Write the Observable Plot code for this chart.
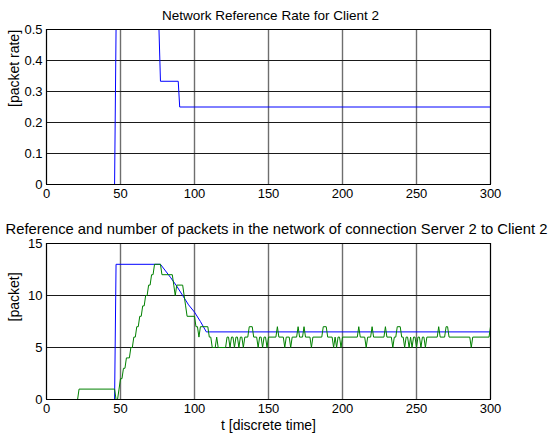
<!DOCTYPE html>
<html>
<head>
<meta charset="utf-8">
<script src="https://cdn.jsdelivr.net/npm/d3@7"></script>
<script src="https://cdn.jsdelivr.net/npm/@observablehq/plot@0.6"></script>
<style>
  html, body { margin: 0; padding: 0; background: #fff; }
  #chart { width: 552px; height: 443px; position: relative; }
  #chart svg { display: block; }
</style>
</head>
<body>
<div id="chart"></div>
<script>
// Network reference rate for client 2 (break points of the step signal)
const rateTime = [0, 46, 47, 76, 77, 89, 90, 300];
const rateValue = [0, 0, 0.5, 0.5, 0.333, 0.333, 0.25, 0.25];

// Reference number of packets, connection Server 2 -> Client 2
const refTime = [0, 46, 47, 77, 84, 88, 92, 96, 100, 104, 108, 300];
const refValue = [0, 0, 13, 13, 11.7, 10.9, 10, 9.1, 8.4, 7.5, 6.5, 6.5];

// Measured number of packets in the network
const pktTime = [
  0, 21, 22, 46, 47, 48, 49, 50, 51, 52, 53, 54, 55, 56, 57, 58, 59, 60,
  61, 62, 63, 64, 65, 66, 67, 68, 69, 70, 71, 72, 73, 77, 78, 85, 86, 87,
  88, 92, 93, 94, 95, 100, 101, 102, 103, 104, 109, 110, 111, 112, 114, 115,
  116, 121, 122, 123, 124, 125, 126, 127, 128, 129, 130, 131, 132, 133, 134,
  136, 137, 139, 140, 142, 143, 144, 145, 146, 147, 148, 149, 150, 155, 156,
  157, 160, 161, 162, 164, 165, 166, 169, 170, 171, 173, 174, 175, 178, 179,
  180, 186, 187, 189, 190, 193, 194, 195, 196, 197, 198, 199, 200, 210, 211,
  212, 215, 216, 217, 219, 220, 221, 228, 229, 230, 233, 234, 235, 236, 237,
  239, 240, 241, 242, 243, 244, 245, 246, 247, 248, 249, 250, 251, 252, 253,
  254, 255, 256, 257, 264, 265, 266, 269, 270, 271, 272, 286, 287, 288, 299,
  300
];
const pktCount = [
  0, 0, 1, 1, 0, 0, 1, 2, 2, 3, 3, 4, 4, 4, 5, 5, 6, 6,
  7, 7, 8, 8, 9, 9, 10, 10, 11, 11, 12, 12, 13, 13, 12, 12, 11, 10,
  11, 11, 10, 9, 8, 8, 7, 7, 6, 7, 7, 6, 6, 5, 5, 6,
  5, 5, 6, 6, 5, 6, 6, 5, 6, 6, 5, 6, 6, 5, 6,
  6, 7, 7, 6, 6, 5, 6, 6, 5, 6, 6, 5, 6, 6, 7,
  6, 6, 5, 6, 6, 5, 6, 6, 7, 6, 6, 7, 6, 6, 5,
  6, 6, 7, 7, 6, 6, 5, 6, 5, 6, 6, 5, 6, 6, 7,
  6, 6, 5, 6, 6, 7, 6, 6, 7, 6, 6, 5, 6, 6, 7,
  7, 6, 6, 5, 6, 6, 5, 6, 5, 6, 6, 5, 6, 6, 5,
  6, 6, 5, 6, 6, 7, 6, 6, 7, 7, 6, 6, 5, 6, 6,
  7
];

// Axis ticks
const timeTicks = [0, 50, 100, 150, 200, 250, 300];
const rateTicks = [0, 0.1, 0.2, 0.3, 0.4, 0.5];
const packetTicks = [0, 5, 10, 15];

// Text
const topTitle = "Network Reference Rate for Client 2";
const topYLabel = "[packet rate]";
const bottomTitle = "Reference and number of packets in the network of connection Server 2 to Client 2";
const bottomYLabel = "[packet]";
const bottomXLabel = "t [discrete time]";

const rateRows = rateTime.map((t, i) => ({t, v: rateValue[i]}));
const refRows = refTime.map((t, i) => ({t, v: refValue[i]}));
const pktRows = pktTime.map((t, i) => ({t, v: pktCount[i]}));

const FONT = "'Liberation Sans', Arial, Helvetica, sans-serif";

function panel({height, marginTop, marginBottom, yDomain, yTicks, series, title, titleSize, titleDy, titleDx, yLabel, xLabel}) {
  const marks = [
    Plot.ruleX(timeTicks, {stroke: "#6e6e6e", strokeWidth: 1.4}),
    Plot.ruleY(yTicks, {stroke: "#1a1a1a", strokeWidth: 1}),
    ...series.map(s => Plot.line(s.rows, {x: "t", y: "v", stroke: s.color, strokeWidth: 1})),
    Plot.frame({stroke: "#000", strokeWidth: 1}),
    Plot.text([title], {text: d => d, frameAnchor: "top", dy: titleDy, dx: titleDx, fontSize: titleSize}),
    Plot.text([yLabel], {text: d => d, frameAnchor: "left", rotate: -90, dx: -32, fontSize: 14})
  ];
  if (xLabel) {
    marks.push(Plot.text([xLabel], {text: d => d, frameAnchor: "bottom", dy: 30, fontSize: 14}));
  }
  return Plot.plot({
    width: 552,
    height,
    marginLeft: 46,
    marginRight: 62,
    marginTop,
    marginBottom,
    style: {fontFamily: FONT, fontSize: "13px", background: "#fff", color: "#000", overflow: "visible"},
    x: {domain: [0, 300], ticks: timeTicks, tickSize: 0, tickPadding: 4, label: null},
    y: {domain: yDomain, ticks: yTicks, tickSize: 0, tickPadding: 4, tickFormat: d => String(d), label: null},
    marks
  });
}

const chart = document.getElementById("chart");

chart.appendChild(panel({
  height: 212,
  marginTop: 29,
  marginBottom: 28,
  yDomain: [0, 0.5],
  yTicks: rateTicks,
  series: [{rows: rateRows, color: "#0000ff"}],
  title: topTitle,
  titleSize: 13.5,
  titleDy: -19,
  titleDx: 2,
  yLabel: topYLabel
}));

chart.appendChild(panel({
  height: 231,
  marginTop: 31,
  marginBottom: 44,
  yDomain: [0, 15],
  yTicks: packetTicks,
  series: [{rows: refRows, color: "#0000ff"}, {rows: pktRows, color: "#008000"}],
  title: bottomTitle,
  titleSize: 14.8,
  titleDy: -20,
  titleDx: 8,
  yLabel: bottomYLabel,
  xLabel: bottomXLabel
}));
</script>
</body>
</html>
